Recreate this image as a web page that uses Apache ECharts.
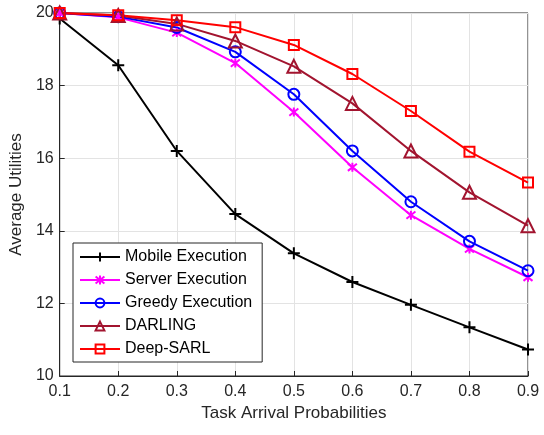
<!DOCTYPE html>
<html><head><meta charset="utf-8">
<script src="https://cdn.jsdelivr.net/npm/echarts@6/dist/echarts.min.js"></script>
<style>html,body{margin:0;padding:0;background:#fff}#c{width:544px;height:435px}</style>
</head><body><div id="c"></div>
<script>
const categories = ['0.1','0.2','0.3','0.4','0.5','0.6','0.7','0.8','0.9'];
const mobile = [19.85, 18.56, 16.2, 14.46, 13.38, 12.59, 11.96, 11.34, 10.73];
const server = [20.0, 19.88, 19.46, 18.62, 17.27, 15.75, 14.43, 13.5, 12.72];
const greedy = [20.0, 19.9, 19.6, 18.93, 17.76, 16.2, 14.8, 13.71, 12.9];
const darling = [20.0, 19.93, 19.7, 19.23, 18.53, 17.51, 16.2, 15.06, 14.14];
const deepSarl = [20.0, 19.94, 19.8, 19.61, 19.12, 18.32, 17.3, 16.18, 15.33];
const yTicks = [10, 12, 14, 16, 18, 20];

const font = 'Liberation Sans, Arial, Helvetica, sans-serif';
const txt = '#262626';
const plusPath = 'path://M0,-10 L0,10 M-10,0 L10,0';
const starPath = 'path://M-8,-8 L8,8 M-8,8 L8,-8 M0,-10 L0,10';

function mk(name, data, color, symbol, size) {
  return {
    name, type: 'line', data, symbol, symbolSize: size,
    showSymbol: true,
    lineStyle: { color, width: 2 },
    itemStyle: { color: 'rgba(0,0,0,0)', borderColor: color, borderWidth: 2 },
    emphasis: { disabled: true },
    animation: false
  };
}

const chart = echarts.init(document.getElementById('c'), null, { renderer: 'canvas' });
chart.setOption({
  backgroundColor: '#fff',
  animation: false,
  textStyle: { fontFamily: font },
  grid: { left: 58, right: 16, top: 13, bottom: 59, show: true, borderColor: txt, borderWidth: 1, backgroundColor: 'transparent' },
  legend: {
    orient: 'vertical', left: 73, top: 243,
    backgroundColor: '#fff', borderColor: txt, borderWidth: 1, borderRadius: 0,
    padding: [5, 10, 4, 6], itemGap: 5, itemWidth: 40, itemHeight: 11,
    textStyle: { fontFamily: font, fontSize: 16, color: '#000', lineHeight: 18 },
    data: ['Mobile Execution', 'Server Execution', 'Greedy Execution', 'DARLING', 'Deep-SARL']
  },
  xAxis: {
    type: 'category', data: categories, boundaryGap: false,
    name: 'Task Arrival Probabilities', nameLocation: 'middle', nameGap: 29,
    nameTextStyle: { fontSize: 17, color: txt, fontFamily: font },
    axisLine: { lineStyle: { color: txt } },
    axisTick: { inside: true, length: 5, lineStyle: { color: txt } },
    axisLabel: { fontSize: 16, color: txt, margin: 8, fontFamily: font },
    splitLine: { show: true, lineStyle: { color: '#e3e3e3', width: 1 } }
  },
  yAxis: {
    type: 'value', min: 10, max: 20, interval: 2,
    name: 'Average Utilities', nameLocation: 'middle', nameGap: 32,
    nameTextStyle: { fontSize: 17, color: txt, fontFamily: font },
    axisLine: { show: true, lineStyle: { color: txt } },
    axisTick: { show: true, inside: true, length: 5, lineStyle: { color: txt } },
    axisLabel: { fontSize: 16, color: txt, margin: 6, fontFamily: font,
      formatter: v => yTicks.includes(v) ? String(v) : '' },
    splitLine: { show: true, lineStyle: { color: '#e3e3e3', width: 1 } }
  },
  series: [
    mk('Mobile Execution', mobile, '#000000', plusPath, 12),
    mk('Server Execution', server, '#ff00ff', starPath, 9),
    mk('Greedy Execution', greedy, '#0000ff', 'circle', 11),
    mk('DARLING', darling, '#a2142f', 'triangle', 13),
    mk('Deep-SARL', deepSarl, '#ff0000', 'rect', 10)
  ]
});
</script></body></html>
